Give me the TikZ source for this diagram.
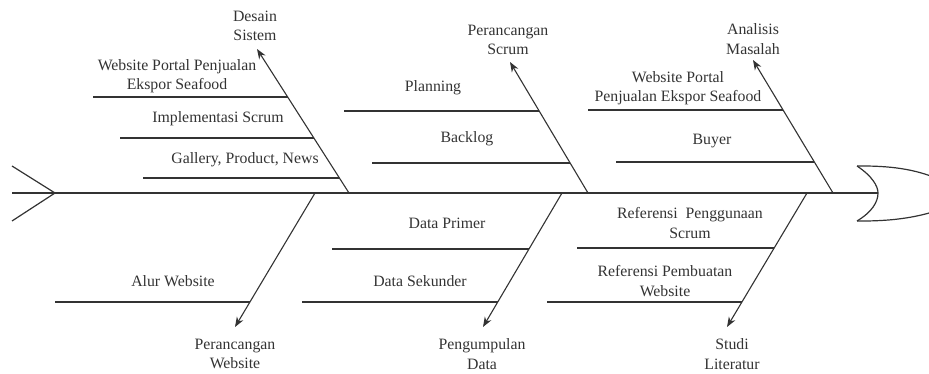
\documentclass[tikz,border=0pt]{standalone}
\usepackage{fontspec}
\setmainfont{Liberation Serif}
\usetikzlibrary{arrows.meta}
\definecolor{ink}{HTML}{333333}
\begin{document}
\begin{tikzpicture}[x=1pt,y=-1pt,
  bone/.style={draw=ink,line width=1.2pt},
  rib/.style={draw=ink,line width=1.1pt},
  cause/.style={draw=ink,line width=1.1pt,-{Stealth[length=10pt,width=7.5pt]}},
  lbl/.style={text=ink,font=\fontsize{15.8}{19.5}\selectfont,align=center,inner sep=0pt}]
\useasboundingbox (0,0) rectangle (929,374);
\begin{scope}
\clip (0,0) rectangle (929,374);
% spine and tail
\coordinate (spinestart) at (12,193);
\coordinate (headL) at (878,193);
\coordinate (tailtop) at (12,166);
\coordinate (tailtip) at (55,193);
\coordinate (tailbot) at (12,221);
\draw[bone] (spinestart) -- (headL);
\draw[bone] (tailtop) -- (tailtip) -- (tailbot);
% head
\coordinate (htop) at (857,166);
\coordinate (hbot) at (857,221);
\draw[bone] (htop) .. controls (872,176) and (878,186) .. (headL)
  .. controls (878,202) and (872,212) .. (hbot);
\draw[bone] (htop) -- (862,166) .. controls (895,166) and (920,170) .. (945,182);
\draw[bone] (hbot) -- (862,221) .. controls (895,221) and (920,217) .. (945,208);
\end{scope}

% ---- Desain Sistem
\coordinate (bDS) at (349,193);
\coordinate (tDS) at (257,49);
\node[lbl] (lDS) at (255,26) {Desain\\Sistem};
\draw[cause] (bDS) -- (tDS);
\coordinate (r1a) at (93,97);  \coordinate (r1b) at (288,97);
\coordinate (r2a) at (120,138); \coordinate (r2b) at (314,138);
\coordinate (r3a) at (143,178); \coordinate (r3b) at (339,178);
\draw[rib] (r1a) -- (r1b);
\draw[rib] (r2a) -- (r2b);
\draw[rib] (r3a) -- (r3b);
\node[lbl] (t1) at (177,76) {Website Portal Penjualan\\Ekspor Seafood};
\node[lbl] (t2) at (218,119) {Implementasi Scrum};
\node[lbl] (t3) at (245,160) {Gallery, Product, News};

% ---- Perancangan Scrum
\coordinate (bPS) at (588,193);
\coordinate (tPS) at (510,62);
\node[lbl] (lPS) at (508,40) {Perancangan\\Scrum};
\draw[cause] (bPS) -- (tPS);
\coordinate (r4a) at (344,111); \coordinate (r4b) at (539,111);
\coordinate (r5a) at (372,163); \coordinate (r5b) at (570,163);
\draw[rib] (r4a) -- (r4b);
\draw[rib] (r5a) -- (r5b);
\node[lbl] (t4) at (433,88) {Planning};
\node[lbl] (t5) at (467,139) {Backlog};

% ---- Analisis Masalah
\coordinate (bAM) at (833,193);
\coordinate (tAM) at (753,60);
\node[lbl] (lAM) at (753,39) {Analisis\\Masalah};
\draw[cause] (bAM) -- (tAM);
\coordinate (r6a) at (588,110); \coordinate (r6b) at (783,110);
\coordinate (r7a) at (616,162); \coordinate (r7b) at (814,162);
\draw[rib] (r6a) -- (r6b);
\draw[rib] (r7a) -- (r7b);
\node[lbl] (t6) at (678,88) {Website Portal\\Penjualan Ekspor Seafood};
\node[lbl] (t7) at (712,141) {Buyer};

% ---- Perancangan Website
\coordinate (bPW) at (315,193);
\coordinate (tPW) at (235,327);
\node[lbl] (lPW) at (235,354) {Perancangan\\Website};
\draw[cause] (bPW) -- (tPW);
\coordinate (r8a) at (55,302); \coordinate (r8b) at (250,302);
\draw[rib] (r8a) -- (r8b);
\node[lbl] (t8) at (173,281) {Alur Website};

% ---- Pengumpulan Data
\coordinate (bPD) at (562,193);
\coordinate (tPD) at (483,327);
\node[lbl] (lPD) at (482,354) {Pengumpulan\\Data};
\draw[cause] (bPD) -- (tPD);
\coordinate (r9a) at (332,249); \coordinate (r9b) at (529,249);
\coordinate (r10a) at (302,302); \coordinate (r10b) at (498,302);
\draw[rib] (r9a) -- (r9b);
\draw[rib] (r10a) -- (r10b);
\node[lbl] (t9) at (447,223) {Data Primer};
\node[lbl] (t10) at (420,281) {Data Sekunder};

% ---- Studi Literatur
\coordinate (bSL) at (807,193);
\coordinate (tSL) at (727,327);
\node[lbl] (lSL) at (732,354) {Studi\\Literatur};
\draw[cause] (bSL) -- (tSL);
\coordinate (r11a) at (577,248); \coordinate (r11b) at (774,248);
\coordinate (r12a) at (547,302); \coordinate (r12b) at (742,302);
\draw[rib] (r11a) -- (r11b);
\draw[rib] (r12a) -- (r12b);
\node[lbl] (t11) at (690,223) {Referensi\ \ Penggunaan\\Scrum};
\node[lbl] (t12) at (665,281) {Referensi Pembuatan\\Website};
\end{tikzpicture}
\end{document}
